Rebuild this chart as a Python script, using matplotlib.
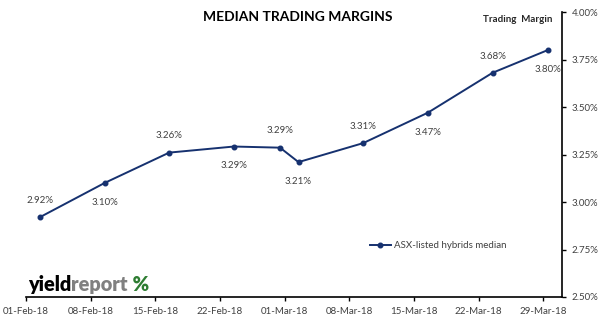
import datetime as dt
import matplotlib
matplotlib.use("Agg")
import matplotlib.pyplot as plt
import matplotlib.dates as mdates
from matplotlib.ticker import FuncFormatter, FixedLocator

# Data
dates = ["2018-02-02", "2018-02-09", "2018-02-16", "2018-02-23", "2018-02-28",
         "2018-03-02", "2018-03-09", "2018-03-16", "2018-03-23", "2018-03-29"]
margins = [2.92, 3.10, 3.26, 3.292, 3.286, 3.21, 3.31, 3.47, 3.68, 3.80]
label_above = [True, False, True, False, True, False, True, False, True, False]
tick_dates = ["2018-02-01", "2018-02-08", "2018-02-15", "2018-02-22", "2018-03-01",
              "2018-03-08", "2018-03-15", "2018-03-22", "2018-03-29"]
y_ticks = [2.50, 2.75, 3.00, 3.25, 3.50, 3.75, 4.00]

line_color = "#16316f"
text_color = "#404040"

plt.rcParams['font.family'] = ['Lato', 'DejaVu Sans']

def to_num(s):
    return mdates.date2num(dt.datetime.strptime(s, "%Y-%m-%d"))

# Excel date axis: points sit in the middle of the day
x = [to_num(d) + 0.5 for d in dates]
xt = [to_num(d) for d in tick_dates]

fig = plt.figure(figsize=(6.02, 3.3), dpi=100)
ax = fig.add_axes([0.0432, 0.1, 0.89, 0.8636])

ax.plot(x, margins, color=line_color, lw=1.4, marker='o', ms=3.3,
        label="ASX-listed hybrids median")

for xi, yi, up in zip(x, margins, label_above):
    off = 12 if up else -14
    ax.annotate(f"{yi:.2f}%", (xi, yi), xytext=(0, off), textcoords="offset points",
                ha='center', va='center', fontsize=7, color=text_color)

ax.set_xlim(to_num("2018-02-01"), to_num("2018-03-31"))
ax.set_ylim(2.5, 4.0)

ax.xaxis.set_major_locator(FixedLocator(xt))
ax.xaxis.set_major_formatter(mdates.DateFormatter("%d-%b-%y"))
ax.yaxis.set_major_locator(FixedLocator(y_ticks))
ax.yaxis.set_major_formatter(FuncFormatter(lambda v, p: f"{v:.2f}%"))
ax.yaxis.tick_right()

for side in ['left', 'top']:
    ax.spines[side].set_visible(False)
for side in ['right', 'bottom']:
    ax.spines[side].set_color('black')
    ax.spines[side].set_linewidth(1.2)

ax.tick_params(axis='both', direction='out', length=3, width=1, color='black',
               labelsize=7, labelcolor=text_color)
ax.tick_params(axis='y', pad=4)
ax.tick_params(axis='x', pad=4)

leg = ax.legend(loc='center', bbox_to_anchor=(438 / 602, 1 - 246 / 330),
                bbox_transform=fig.transFigure, frameon=False, fontsize=7,
                handlelength=2.2, handletextpad=0.3, labelcolor=text_color)

fig.text(298 / 602, 1 - 17 / 330, "MEDIAN TRADING MARGINS", ha='center', va='center',
         fontsize=10, fontweight='bold', color='black')
fig.text(552 / 602, 1 - 20 / 330, "Trading  Margin", ha='right', va='center',
         fontsize=7, fontweight='bold', color='#262626')

# yieldreport logo
t1 = fig.text(28 / 602, 1 - 291 / 330, "yield", ha='left', va='baseline',
              fontsize=14.3, fontweight='heavy', color='black')
t2 = ax.annotate("report", xy=(1, 0), xycoords=t1, va='bottom', ha='left',
                 fontsize=14.3, fontweight='heavy', color='#808080')
ax.annotate(" %", xy=(1, 0), xycoords=t2, va='bottom', ha='left',
            fontsize=14.3, fontweight='heavy', color='#2e7d32')

fig.savefig("out.png", dpi=100)
